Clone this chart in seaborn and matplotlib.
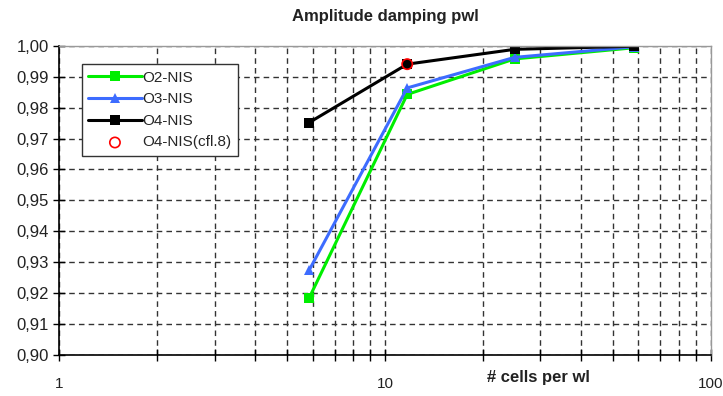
import matplotlib
matplotlib.use("Agg")
import matplotlib.pyplot as plt
import matplotlib.ticker as mticker
import pandas as pd
import seaborn as sns

# data
cells = [5.85, 11.7, 25, 58]
o2_nis = [0.9184, 0.9843, 0.9958, 0.9994]
o3_nis = [0.9274, 0.9864, 0.9963, 0.9997]
o4_nis = [0.9752, 0.9941, 0.9989, 0.9999]
cfl8_cells = [11.7]
cfl8_vals = [0.9941]

sns.set_style("white")
plt.rcParams['font.family'] = ['Liberation Sans', 'DejaVu Sans']

df = pd.DataFrame({
	'cells': cells * 3,
	'value': o2_nis + o3_nis + o4_nis,
	'series': ['O2-NIS'] * 4 + ['O3-NIS'] * 4 + ['O4-NIS'] * 4,
})
colors = {'O2-NIS': '#00ee00', 'O3-NIS': '#3d6cff', 'O4-NIS': '#000000'}
markers = {'O2-NIS': 's', 'O3-NIS': '^', 'O4-NIS': 's'}

fig = plt.figure(figsize=(7.23, 3.96), dpi=100)
ax = fig.add_axes([0.082, 0.104, 0.901, 0.78])

for name in ['O2-NIS', 'O3-NIS', 'O4-NIS']:
	sub = df[df['series'] == name]
	sns.lineplot(data=sub, x='cells', y='value', ax=ax, color=colors[name],
				 marker=markers[name], markersize=7, markeredgewidth=0,
				 linewidth=2.2, label=name)
sns.scatterplot(x=cfl8_cells, y=cfl8_vals, ax=ax, marker='o', s=55,
				facecolor='none', edgecolor='red', linewidth=1.2,
				label='O4-NIS(cfl.8)', zorder=5)

ax.set_xscale('log')
ax.set_xlim(1, 100)
ax.set_ylim(0.90, 1.00)
ax.yaxis.set_major_locator(mticker.MultipleLocator(0.01))
ax.yaxis.set_major_formatter(mticker.FuncFormatter(lambda v, p: f"{v:.2f}".replace('.', ',')))
ax.xaxis.set_major_formatter(mticker.FuncFormatter(lambda v, p: f"{v:g}"))
ax.xaxis.set_minor_formatter(mticker.NullFormatter())

ax.grid(True, which='major', axis='y', color='#333333', linestyle=(0, (4, 3)), linewidth=1)
ax.grid(True, which='both', axis='x', color='#333333', linestyle=(0, (4, 3)), linewidth=1)
ax.set_axisbelow(True)

ax.tick_params(axis='both', which='both', direction='inout', length=8, width=1, color='black',
			   labelsize=12, labelcolor='#222222')
ax.tick_params(axis='x', which='both', bottom=True, pad=12, labelsize=11)
ax.tick_params(axis='y', left=True)
for s in ['left', 'bottom']:
	ax.spines[s].set_color('black')
	ax.spines[s].set_linewidth(1.2)
for s in ['top', 'right']:
	ax.spines[s].set_color('#999999')
	ax.spines[s].set_linewidth(1)

ax.set_xlabel('')
ax.set_ylabel('')
ax.set_title('Amplitude damping pwl', fontsize=12, fontweight='bold', pad=18, color='#222222')
fig.text(0.745, 0.035, '# cells per wl', fontsize=12, fontweight='bold', ha='center', color='#222222')

leg = ax.legend(loc='upper left', bbox_to_anchor=(0.035, 0.94), frameon=True, fancybox=False,
				edgecolor='#333333', fontsize=11, handlelength=3.5, handletextpad=0.05,
				borderpad=0.4, labelspacing=0.5, borderaxespad=0)
leg.get_frame().set_linewidth(1)
leg.get_frame().set_facecolor('white')
leg.get_frame().set_alpha(1)

fig.savefig('out.png', dpi=100)
